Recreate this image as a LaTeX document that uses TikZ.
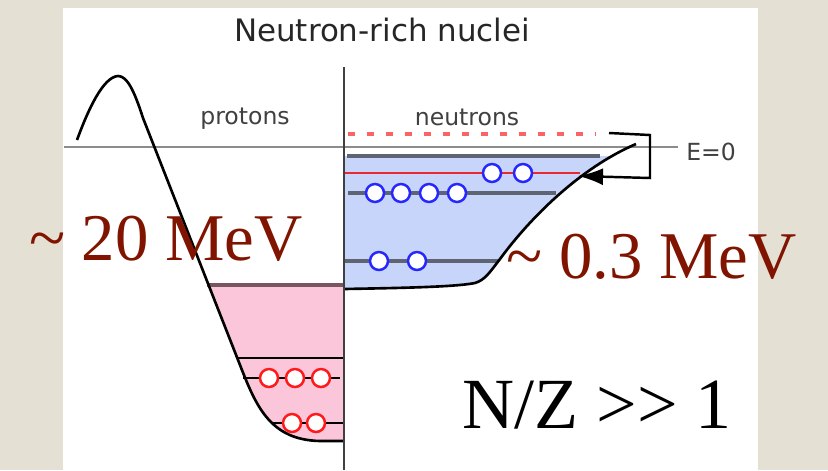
\documentclass[tikz,border=0pt]{standalone}
\usepackage{fontspec}
\setmainfont{Liberation Serif}
\newfontfamily\sansfont{DejaVu Sans}
\usetikzlibrary{arrows.meta}
\definecolor{paper}{RGB}{229,224,212}
\definecolor{mevred}{RGB}{128,20,0}
\definecolor{wellpink}{RGB}{252,198,218}
\definecolor{wellblue}{RGB}{200,213,250}
\definecolor{levelgray}{RGB}{95,100,115}
\definecolor{toppink}{RGB}{120,85,95}
\definecolor{fermired}{RGB}{235,40,50}
\definecolor{dashred}{RGB}{250,100,100}

\begin{document}
\begin{tikzpicture}[x=0.02cm, y=-0.02cm,
	p/.style={circle, draw=red!90!white, fill=white, line width=1.4pt, minimum size=0.36cm, inner sep=0pt},
	n/.style={circle, draw=blue!85!white, fill=white, line width=1.4pt, minimum size=0.36cm, inner sep=0pt},
	lvl/.style={levelgray, line width=2.2pt},
	big/.style={font=\fontsize{38}{40}\selectfont, inner sep=0pt},
	small/.style={font=\sansfont\fontsize{13.4}{15}\selectfont, text=black!75}]
	\useasboundingbox (0,0) rectangle (828,470);
	\fill[paper] (0,0) rectangle (828,470);
	\fill[white] (63,8) rectangle (758,470);
	\def\pcurve{(77,140) .. controls (88,110) and (103,77) .. (118,76) .. controls (127,76) and (134,90) .. (143,118) -- (240,365) .. controls (256,406) and (270,440) .. (320,441) -- (344,441)}
	\def\ncurve{(344,289) .. controls (400,288) and (455,287) .. (475,283) .. controls (485,280) and (490,272) .. (500,259) .. controls (530,218) and (580,168) .. (636,144)}
	\begin{scope}
		\clip (150,285) rectangle (344,450);
		\fill[wellpink] \pcurve -- (344,100) -- cycle;
	\end{scope}
	\begin{scope}
		\clip (344,156) rectangle (700,300);
		\fill[wellblue] \ncurve -- (344,140) -- cycle;
	\end{scope}
	\draw[dashred, line width=2pt, dash pattern=on 4pt off 6.8pt] (348,134) -- (596,134);
	\draw[black!45, line width=1.6pt] (64,147) -- (678,147);
	\draw[lvl] (347,156) -- (600,156);
	\draw[fermired, line width=1.4pt] (344,173) -- (580,173);
	\draw[lvl] (348,193) -- (556,193);
	\draw[lvl] (345,261) -- (499,261);
	\draw[toppink, line width=2pt] (207,285) -- (344,285);
	\draw[line width=1.3pt] (238,358) -- (344,358);
	\draw[line width=1.5pt] (243,378) -- (340,378);
	\draw[line width=1.5pt] (272,423) -- (344,423);
	\draw[line width=1.5pt] \pcurve;
	\draw[line width=1.5pt] \ncurve;
	\draw[black!75, line width=1pt] (344,67) -- (344,470);
	\foreach \x [count=\i] in {492,523} {\node[n] (f\i) at (\x,173) {};}
	\foreach \x [count=\i] in {375,401,429,457} {\node[n] (m\i) at (\x,193) {};}
	\foreach \x [count=\i] in {379,417} {\node[n] (d\i) at (\x,261) {};}
	\foreach \x [count=\i] in {269,295,321} {\node[p] (u\i) at (\x,378) {};}
	\foreach \x [count=\i] in {292,316} {\node[p] (l\i) at (\x,423) {};}
	\coordinate (gap) at (609,133); \coordinate (fermi) at (578,176);
	\draw[line width=1.4pt, -{Latex[length=0.5cm, width=0.34cm]}] (gap) -- (650,135) -- (650,178) -- (fermi);
	\node[font=\sansfont\fontsize{17.6}{20}\selectfont, text=black!85] (title) at (382,30) {Neutron-rich nuclei};
	\node[small] (prot) at (245,119) {protons};
	\node[small] (neut) at (467,117) {neutrons};
	\node[small, anchor=west, inner sep=0pt] (ezero) at (686,152) {E=0};
	\node[big, text=mevred, anchor=base east] (deep) at (303,260) {\textasciitilde{} 20 MeV};
	\node[big, text=mevred, anchor=base east] (shallow) at (797,278) {\textasciitilde{} 0.3 MeV};
	\node[font=\fontsize{41}{44}\selectfont, inner sep=0pt, anchor=base east] (ratio) at (732,428) {N/Z >\kern0pt> 1};
\end{tikzpicture}
\end{document}
